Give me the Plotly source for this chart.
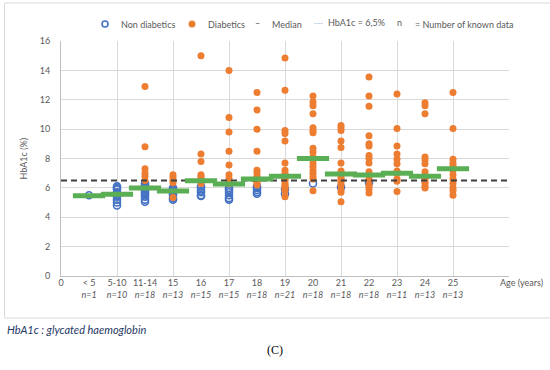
import plotly.graph_objects as go

categories = ["< 5", "5-10", "11-14", "15", "16", "17", "18", "19", "20", "21", "22", "23", "24", "25"]
n_known = [1, 10, 18, 13, 15, 15, 18, 21, 18, 18, 18, 11, 13, 13]

non_diabetics = [
    [5.5],
    [6.1, 6.0, 5.9, 5.7, 5.6, 5.5, 5.4, 5.2, 5.0, 4.8],
    [6.3, 6.2, 6.1, 6.0, 5.9, 5.8, 5.7, 5.6, 5.5, 5.4, 5.2, 5.05],
    [6.0, 5.9, 5.8, 5.7, 5.6, 5.5, 5.3, 5.2],
    [6.1, 6.0, 5.8, 5.7, 5.5, 5.45],
    [6.0, 5.85, 5.7, 5.5, 5.3, 5.2],
    [6.1, 6.0, 5.85, 5.7, 5.6],
    [5.9, 5.6],
    [6.3],
    [6.05],
    [6.35],
    [],
    [],
    [],
]

diabetics = [
    [],
    [],
    [12.9, 8.8, 7.3, 7.0, 6.8, 6.5],
    [6.9, 6.7, 6.5, 6.35, 5.35],
    [15.0, 8.3, 7.8, 6.9, 6.8, 6.65, 6.55, 6.45, 6.3],
    [14.0, 10.8, 9.8, 8.5, 7.55, 6.9, 6.65, 6.45, 6.3],
    [12.5, 11.3, 10.0, 8.5, 7.2, 7.0, 6.8, 6.7, 6.6, 6.5, 6.4, 6.3, 6.2],
    [14.85, 12.65, 9.9, 9.7, 9.2, 7.7, 7.2, 7.0, 6.9, 6.8, 6.7, 6.6, 6.5, 6.3, 6.2, 6.1, 6.0, 5.8, 5.4],
    [12.25, 11.85, 11.6, 11.05, 10.1, 9.9, 9.75, 8.7, 8.45, 8.1, 7.7, 7.45, 7.2, 7.0, 6.8, 6.6, 5.8],
    [10.25, 10.1, 9.9, 9.2, 8.75, 7.7, 7.15, 7.0, 6.9, 6.7, 6.6, 6.5, 6.4, 6.2, 5.85, 5.7, 5.05],
    [13.55, 12.25, 11.55, 9.55, 9.0, 8.85, 8.2, 8.0, 7.7, 7.1, 6.9, 6.6, 6.5, 6.2, 6.1, 5.9, 5.65],
    [12.4, 10.05, 8.85, 8.3, 7.95, 7.65, 7.15, 7.0, 6.6, 6.45, 5.75],
    [11.8, 11.6, 11.05, 8.1, 7.9, 7.65, 7.1, 6.8, 6.6, 6.4, 6.3, 6.1, 6.0],
    [12.5, 10.05, 7.95, 7.7, 7.5, 7.35, 7.2, 6.9, 6.6, 6.3, 6.0, 5.8, 5.5],
]

medians = [5.46, 5.56, 5.99, 5.78, 6.49, 6.26, 6.6, 6.8, 8.0, 6.94, 6.87, 6.99, 6.8, 7.3]
threshold = 6.5
x_range = [0, 16]

positions = list(range(1, len(categories) + 1))

nd_x, nd_y, d_x, d_y = [], [], [], []
for p, vals in zip(positions, non_diabetics):
    nd_x += [p] * len(vals)
    nd_y += vals
for p, vals in zip(positions, diabetics):
    d_x += [p] * len(vals)
    d_y += vals

ORANGE = "#ED7D31"
BLUE = "#4472C4"
GREEN = "#5AAE54"
GRID = "#D9D9D9"
TXT = "#595959"
FONT = "Lato"
FS = 9

fig = go.Figure()
fig.add_trace(go.Scatter(x=nd_x, y=nd_y, mode="markers",
                         marker=dict(symbol="circle-open", size=7, color=BLUE, line=dict(width=1.6, color=BLUE)),
                         showlegend=False, cliponaxis=False))
fig.add_trace(go.Scatter(x=d_x, y=d_y, mode="markers",
                         marker=dict(symbol="circle", size=7, color=ORANGE),
                         showlegend=False, cliponaxis=False))
fig.add_trace(go.Scatter(x=x_range, y=[threshold, threshold], mode="lines",
                         line=dict(color="#404040", width=2, dash="6px,4px"),
                         showlegend=False, xaxis="x2"))
fig.add_trace(go.Scatter(x=positions, y=medians, mode="markers",
                         marker=dict(symbol="line-ew", size=23, line=dict(width=5, color=GREEN)),
                         showlegend=False, xaxis="x2"))

ticktext = [f"{c}<br><i>n={n}</i>" for c, n in zip(categories, n_known)]

fig.update_layout(
    width=550, height=370,
    margin=dict(l=61, r=41, t=41, b=94),
    paper_bgcolor="white", plot_bgcolor="white",
    font=dict(family=FONT, size=FS, color=TXT),
    xaxis=dict(range=x_range, tickvals=list(range(0, 17, 2)), showticklabels=False,
               showgrid=True, gridcolor=GRID, gridwidth=1, zeroline=False,
               showline=True, linecolor="#BFBFBF", linewidth=1, ticks=""),
    xaxis2=dict(range=x_range, overlaying="x", anchor="y", side="bottom",
                tickvals=[0] + positions, ticktext=["0<br> "] + ticktext,
                showgrid=False, zeroline=False, showline=False, ticks="",
                tickfont=dict(family=FONT, size=FS, color=TXT)),
    yaxis=dict(range=[0, 16], dtick=2, showgrid=True, gridcolor=GRID, gridwidth=1,
               zeroline=False, showline=True, linecolor="#BFBFBF", linewidth=1,
               ticks="", ticklabelstandoff=8, tickfont=dict(family=FONT, size=FS, color=TXT)),
)

def px_x(px):
    return (px - 61) / 448.0

def px_y(py):
    return (276 - py) / 235.0

ann = []
def text(px, py, s, anchor="left", size=FS, color=TXT, family=FONT, **kw):
    ann.append(dict(x=px_x(px), y=px_y(py), xref="paper", yref="paper", text=s,
                    showarrow=False, xanchor=anchor, yanchor="middle",
                    font=dict(size=size, color=color, family=family), **kw))

text(498, 282, "Age (years)")
text(5, 329, "<i>HbA1c : glycated haemoglobin</i>", size=11, color="#1F3864")
text(275, 350, "(C)", anchor="center", size=12, color="black", family="Liberation Serif")
ann.append(dict(x=px_x(23), y=0.5, xref="paper", yref="paper", text="HbA1c (%)", showarrow=False,
                textangle=-90, xanchor="center", yanchor="middle", font=dict(size=FS, color=TXT, family=FONT)))

# legend
text(119, 24, "Non diabetics")
text(206, 24, "Diabetics")
text(257, 23, "–", anchor="center")
text(270, 24, "Median")
text(312, 23, "---", size=8, color="#8FAADC")
text(326, 23, "HbA1c = 6,5%")
text(395, 23, "n")
text(413, 24, "= Number of known data")
fig.update_layout(annotations=ann)

shapes = [
    dict(type="rect", xref="paper", yref="paper", x0=px_x(4.5), x1=px_x(553), y0=px_y(318), y1=px_y(3),
         line=dict(color="#D9D9D9", width=1), fillcolor="rgba(0,0,0,0)", layer="below"),
    dict(type="circle", xref="paper", yref="paper", xsizemode="pixel", ysizemode="pixel",
         xanchor=px_x(105), yanchor=px_y(24), x0=-3, x1=3, y0=-3, y1=3,
         line=dict(color=BLUE, width=1.6), fillcolor="white"),
    dict(type="circle", xref="paper", yref="paper", xsizemode="pixel", ysizemode="pixel",
         xanchor=px_x(192), yanchor=px_y(24), x0=-3.5, x1=3.5, y0=-3.5, y1=3.5,
         line=dict(color=ORANGE, width=0), fillcolor=ORANGE),
]
fig.update_layout(shapes=shapes)

fig.write_html("out.html", config={"displayModeBar": False},
               post_script="document.body.style.margin='0px';")
